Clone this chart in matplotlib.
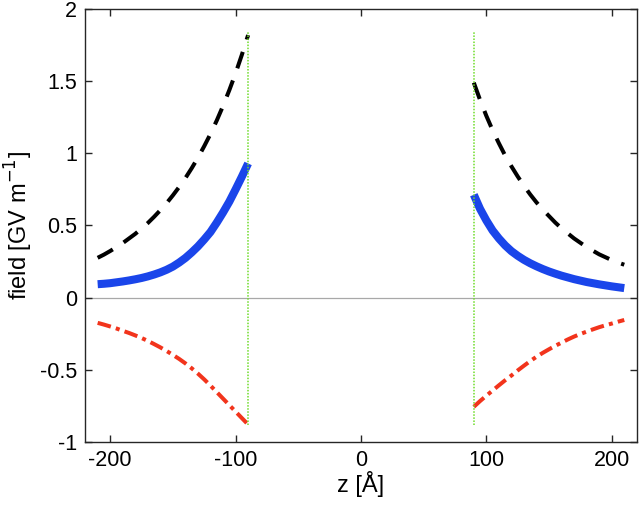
import matplotlib
matplotlib.use("Agg")
import matplotlib.pyplot as plt
from matplotlib.ticker import FormatStrFormatter

matplotlib.rcParams["font.family"] = ["Liberation Sans", "DejaVu Sans"]
matplotlib.rcParams["axes.unicode_minus"] = False

# z positions (Angstrom), every 5 A on each side of the gap
z_left = list(range(-210, -85, 5))
z_right = list(range(90, 215, 5))

# values (GV/m)
total_left = [0.276, 0.298, 0.323, 0.350, 0.378, 0.410, 0.442, 0.479, 0.517,
              0.560, 0.606, 0.655, 0.709, 0.767, 0.829, 0.897, 0.970, 1.050,
              1.135, 1.228, 1.329, 1.438, 1.555, 1.683, 1.82]
total_right = [1.49, 1.37, 1.26, 1.16, 1.07, 0.985, 0.91, 0.84, 0.775, 0.715,
               0.66, 0.61, 0.565, 0.52, 0.48, 0.445, 0.41, 0.38, 0.35, 0.325,
               0.30, 0.28, 0.26, 0.243, 0.228]

blue_left = [0.093, 0.096, 0.100, 0.106, 0.112, 0.119, 0.127, 0.136, 0.147,
             0.160, 0.175, 0.193, 0.215, 0.243, 0.275, 0.313, 0.355, 0.403,
             0.455, 0.52, 0.59, 0.665, 0.75, 0.838, 0.93]
blue_right = [0.713, 0.615, 0.535, 0.465, 0.41, 0.362, 0.322, 0.29, 0.262,
              0.238, 0.217, 0.198, 0.181, 0.166, 0.152, 0.14, 0.128, 0.118,
              0.108, 0.10, 0.092, 0.085, 0.078, 0.072, 0.066]

red_left = [-0.175, -0.187, -0.20, -0.214, -0.23, -0.245, -0.262, -0.28, -0.30,
            -0.322, -0.345, -0.37, -0.397, -0.425, -0.456, -0.49, -0.527,
            -0.567, -0.61, -0.655, -0.70, -0.745, -0.79, -0.835, -0.88]
red_right = [-0.757, -0.717, -0.68, -0.644, -0.608, -0.573, -0.54, -0.505,
             -0.472, -0.44, -0.41, -0.383, -0.358, -0.334, -0.312, -0.29,
             -0.27, -0.252, -0.236, -0.22, -0.205, -0.192, -0.18, -0.167, -0.155]

walls = [-90, 90]

fig = plt.figure(figsize=(6.4, 5.05), dpi=100)
ax = fig.add_axes([0.133, 0.125, 0.862, 0.857])

ax.axhline(0, color="#a8a8a8", lw=0.9, zorder=1)

for z, t in [(z_left, total_left), (z_right, total_right)]:
    ax.plot(z, t, color="black", lw=2.9, dashes=(4.3, 3.2), zorder=3)
for z, b in [(z_left, blue_left), (z_right, blue_right)]:
    ax.plot(z, b, color="#1a45ea", lw=5.8, solid_capstyle="butt",
            solid_joinstyle="round", zorder=3)
for z, r in [(z_left, red_left), (z_right, red_right)]:
    ax.plot(z, r, color="#f2341c", lw=2.9, dashes=(3.4, 1.3, 1.0, 1.3), zorder=3)

ymin = min(red_left + red_right)
ymax = max(total_left + total_right) + 0.02
ax.vlines(walls, ymin, ymax, colors="#6fdc2a", lw=1.1,
          linestyles=(0, (1, 1)), zorder=4)

ax.set_xlim(-220, 220)
ax.set_ylim(-1, 2)
ax.set_xticks([-200, -100, 0, 100, 200])
ax.set_yticks([-1, -0.5, 0, 0.5, 1, 1.5, 2])
ax.yaxis.set_major_formatter(FormatStrFormatter("%g"))
ax.tick_params(direction="in", length=5, width=1, top=True, right=True,
               labelsize=15.5, colors="#262626", labelcolor="black", pad=6)
for s in ax.spines.values():
    s.set_color("#262626")
    s.set_linewidth(1.0)

ax.set_xlabel("z [Å]", fontsize=17, labelpad=0)
ax.set_ylabel("field [GV m$^{-1}$]", fontsize=17, labelpad=3)

fig.savefig("out.png", dpi=100)
